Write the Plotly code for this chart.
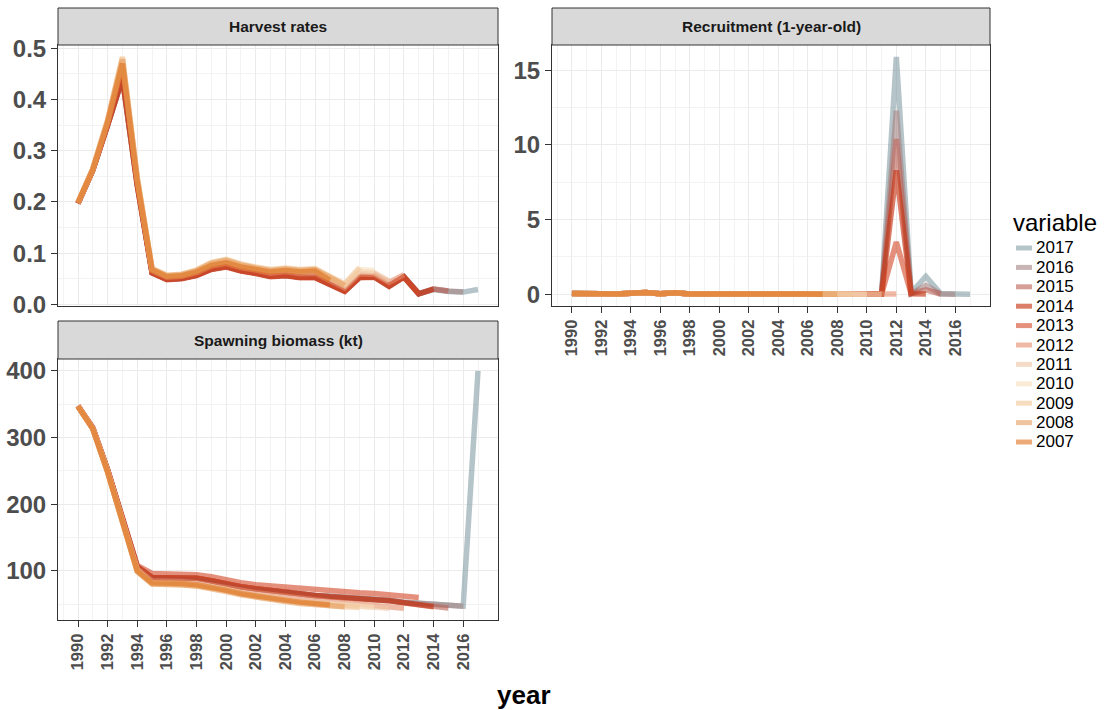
import plotly.graph_objects as go

# ---------------- data ----------------
variables = ["2017", "2016", "2015", "2014", "2013", "2012", "2011", "2010", "2009", "2008", "2007"]
panel_titles = ["Harvest rates", "Recruitment (1-year-old)", "Spawning biomass (kt)"]
x_tick_years = list(range(1990, 2017, 2))

hr_2007 = [0.198, 0.263, 0.355, 0.470, 0.240, 0.067, 0.054, 0.056, 0.063, 0.076, 0.081, 0.073, 0.068, 0.063, 0.066, 0.063, 0.065, 0.047]
hr_2008 = [0.199, 0.264, 0.358, 0.478, 0.245, 0.069, 0.056, 0.058, 0.066, 0.080, 0.086, 0.077, 0.071, 0.066, 0.069, 0.066, 0.068, 0.052, 0.037]
hr_2009 = [0.199, 0.265, 0.360, 0.483, 0.248, 0.070, 0.057, 0.059, 0.067, 0.082, 0.088, 0.079, 0.073, 0.068, 0.071, 0.068, 0.070, 0.054, 0.040, 0.072]
hr_2010 = [0.199, 0.265, 0.360, 0.482, 0.247, 0.070, 0.057, 0.059, 0.067, 0.081, 0.087, 0.078, 0.072, 0.067, 0.070, 0.067, 0.069, 0.053, 0.039, 0.068, 0.066]
hr_2011 = [0.198, 0.264, 0.358, 0.478, 0.245, 0.068, 0.055, 0.057, 0.065, 0.078, 0.084, 0.075, 0.070, 0.065, 0.068, 0.065, 0.066, 0.050, 0.036, 0.064, 0.062, 0.046]
hr_2012 = [0.198, 0.263, 0.355, 0.470, 0.242, 0.066, 0.053, 0.055, 0.062, 0.075, 0.080, 0.072, 0.067, 0.061, 0.064, 0.060, 0.061, 0.045, 0.032, 0.060, 0.059, 0.043, 0.058]
hr_2013 = [0.197, 0.262, 0.352, 0.455, 0.236, 0.062, 0.049, 0.051, 0.057, 0.069, 0.074, 0.066, 0.061, 0.055, 0.057, 0.053, 0.053, 0.039, 0.026, 0.053, 0.054, 0.037, 0.054, 0.021]
hr_2014 = [0.197, 0.262, 0.350, 0.440, 0.232, 0.061, 0.048, 0.050, 0.056, 0.068, 0.073, 0.065, 0.060, 0.054, 0.056, 0.052, 0.052, 0.038, 0.025, 0.052, 0.053, 0.035, 0.053, 0.020, 0.030]
hr_2015 = [0.197, 0.262, 0.350, 0.442, 0.233, 0.062, 0.049, 0.051, 0.057, 0.069, 0.074, 0.066, 0.061, 0.055, 0.057, 0.053, 0.053, 0.039, 0.026, 0.053, 0.054, 0.036, 0.054, 0.021, 0.030, 0.026]
hr_2016 = [0.197, 0.262, 0.350, 0.442, 0.233, 0.062, 0.049, 0.051, 0.057, 0.069, 0.074, 0.066, 0.061, 0.055, 0.057, 0.053, 0.053, 0.039, 0.026, 0.053, 0.054, 0.036, 0.054, 0.021, 0.030, 0.026, 0.024]
hr_2017 = [0.197, 0.262, 0.350, 0.442, 0.233, 0.062, 0.049, 0.051, 0.057, 0.069, 0.074, 0.066, 0.061, 0.055, 0.057, 0.053, 0.053, 0.039, 0.026, 0.053, 0.054, 0.036, 0.054, 0.021, 0.029, 0.025, 0.024, 0.029]

rec_2007 = [0.05, 0.08, 0.03, 0.02, 0.04, 0.12, 0.04, 0.10, 0.02, 0.03, 0.03, 0.02, 0.01, 0.02, 0.03, 0.02, 0.02, 0.01]
rec_2008 = [0.05, 0.08, 0.03, 0.02, 0.04, 0.12, 0.04, 0.10, 0.02, 0.03, 0.03, 0.02, 0.01, 0.02, 0.03, 0.02, 0.02, 0.02, 0.01]
rec_2009 = [0.05, 0.08, 0.03, 0.02, 0.04, 0.12, 0.04, 0.10, 0.02, 0.03, 0.03, 0.02, 0.01, 0.02, 0.03, 0.02, 0.02, 0.02, 0.02, 0.01]
rec_2010 = [0.05, 0.08, 0.03, 0.02, 0.04, 0.12, 0.04, 0.10, 0.02, 0.03, 0.03, 0.02, 0.01, 0.02, 0.03, 0.02, 0.02, 0.02, 0.02, 0.02, 0.01]
rec_2011 = [0.05, 0.08, 0.03, 0.02, 0.04, 0.12, 0.04, 0.10, 0.02, 0.03, 0.03, 0.02, 0.01, 0.02, 0.03, 0.02, 0.02, 0.02, 0.02, 0.02, 0.02, 0.01]
rec_2012 = [0.05, 0.08, 0.03, 0.02, 0.04, 0.12, 0.04, 0.10, 0.02, 0.03, 0.03, 0.02, 0.01, 0.02, 0.03, 0.02, 0.02, 0.02, 0.02, 0.02, 0.02, 0.05, 0.02]
rec_2013 = [0.05, 0.08, 0.03, 0.02, 0.04, 0.12, 0.04, 0.10, 0.02, 0.03, 0.03, 0.02, 0.01, 0.02, 0.03, 0.02, 0.02, 0.02, 0.02, 0.02, 0.02, 0.02, 3.50, 0.02]
rec_2014 = [0.05, 0.08, 0.03, 0.02, 0.04, 0.12, 0.04, 0.10, 0.02, 0.03, 0.03, 0.02, 0.01, 0.02, 0.03, 0.02, 0.02, 0.02, 0.02, 0.02, 0.02, 0.02, 8.30, 0.03, 0.02]
rec_2015 = [0.05, 0.08, 0.03, 0.02, 0.04, 0.12, 0.04, 0.10, 0.02, 0.03, 0.03, 0.02, 0.01, 0.02, 0.03, 0.02, 0.02, 0.02, 0.02, 0.02, 0.02, 0.02, 10.40, 0.05, 0.30, 0.02]
rec_2016 = [0.05, 0.08, 0.03, 0.02, 0.04, 0.12, 0.04, 0.10, 0.02, 0.03, 0.03, 0.02, 0.01, 0.02, 0.03, 0.02, 0.02, 0.02, 0.02, 0.02, 0.02, 0.02, 12.30, 0.05, 0.60, 0.02, 0.01]
rec_2017 = [0.05, 0.08, 0.03, 0.02, 0.04, 0.12, 0.04, 0.10, 0.02, 0.03, 0.03, 0.02, 0.01, 0.02, 0.03, 0.02, 0.02, 0.02, 0.02, 0.02, 0.02, 0.02, 15.90, 0.10, 1.20, 0.05, 0.02, 0.01]

sb_2007 = [347, 313, 248, 174, 100, 82, 82, 81, 79, 76, 71, 66, 62, 59, 56, 53, 51, 49]
sb_2008 = [347, 313, 248, 174, 99, 80, 80, 79, 77, 74, 69, 64, 60, 57, 54, 51, 49, 47, 46]
sb_2009 = [347, 313, 248, 174, 99, 80, 80, 80, 78, 75, 70, 65, 61, 58, 55, 52, 50, 48, 46, 45]
sb_2010 = [347, 313, 249, 175, 100, 81, 81, 80, 78, 75, 71, 66, 62, 59, 56, 53, 51, 49, 47, 46, 45]
sb_2011 = [347, 313, 249, 175, 101, 82, 82, 81, 79, 76, 72, 67, 63, 60, 57, 54, 52, 50, 48, 47, 45, 44]
sb_2012 = [347, 314, 250, 177, 103, 85, 85, 84, 82, 79, 75, 71, 67, 64, 61, 58, 56, 54, 52, 50, 48, 46, 44]
sb_2013 = [348, 315, 252, 180, 108, 96, 96, 96, 94, 91, 86, 82, 79, 77, 75, 73, 71, 69, 68, 67, 66, 64, 62, 60]
sb_2014 = [347, 314, 251, 178, 106, 90, 90, 90, 89, 85, 80, 76, 73, 70, 67, 65, 63, 61, 60, 59, 57, 55, 52, 49, 46]
sb_2015 = [347, 314, 251, 178, 106, 90, 90, 90, 89, 85, 80, 76, 73, 70, 67, 65, 63, 61, 60, 59, 57, 55, 52, 49, 47, 44]
sb_2016 = [347, 314, 251, 178, 106, 90, 90, 90, 89, 85, 80, 76, 73, 70, 67, 65, 63, 62, 61, 60, 58, 56, 53, 51, 49, 48, 47]
sb_2017 = [347, 314, 251, 178, 106, 90, 90, 90, 89, 85, 80, 76, 73, 70, 67, 65, 63, 62, 61, 60, 58, 56, 53, 51, 49, 48, 47, 400]

# ---------------- styling ----------------
ALPHA = 0.6
base_colors = {
    "2017": (132, 157, 163), "2016": (165, 130, 130), "2015": (187, 97, 85),
    "2014": (195, 42, 7), "2013": (212, 70, 37), "2012": (228, 138, 105),
    "2011": (238, 197, 163), "2010": (247, 222, 188), "2009": (242, 197, 150),
    "2008": (230, 157, 93), "2007": (222, 113, 30),
}

harvest = {"2007": hr_2007, "2008": hr_2008, "2009": hr_2009, "2010": hr_2010, "2011": hr_2011,
           "2012": hr_2012, "2013": hr_2013, "2014": hr_2014, "2015": hr_2015, "2016": hr_2016, "2017": hr_2017}
recruit = {"2007": rec_2007, "2008": rec_2008, "2009": rec_2009, "2010": rec_2010, "2011": rec_2011,
           "2012": rec_2012, "2013": rec_2013, "2014": rec_2014, "2015": rec_2015, "2016": rec_2016, "2017": rec_2017}
biomass = {"2007": sb_2007, "2008": sb_2008, "2009": sb_2009, "2010": sb_2010, "2011": sb_2011,
           "2012": sb_2012, "2013": sb_2013, "2014": sb_2014, "2015": sb_2015, "2016": sb_2016, "2017": sb_2017}

W, H = 1114, 710
FONT = "Liberation Sans, Arial, sans-serif"


def rgba(c, a=ALPHA):
    return f"rgba({c[0]},{c[1]},{c[2]},{a})"


def px_x(p):
    return p / W


def px_y(p):
    return 1 - p / H


def expand(vals, mult=0.05):
    lo, hi = min(vals), max(vals)
    d = (hi - lo) * mult
    return [lo - d, hi + d]


fig = go.Figure()

panels = [(harvest, "x", "y"), (recruit, "x2", "y2"), (biomass, "x3", "y3")]
for data, xa, ya in panels:
    for v in variables:  # 2017 first, 2007 drawn on top
        vals = data[v]
        yrs = list(range(1990, 1990 + len(vals)))
        fig.add_trace(go.Scatter(
            x=yrs, y=vals, xaxis=xa, yaxis=ya, mode="lines",
            line=dict(color=rgba(base_colors[v]), width=5.5),
            name=v, showlegend=False, hoverinfo="skip"))

all_years = list(range(1990, 2018))
xr = expand(all_years)
yr1 = expand([x for v in variables for x in harvest[v]])
yr2 = expand([x for v in variables for x in recruit[v]])
yr3 = expand([x for v in variables for x in biomass[v]])

# panel geometry in pixels
P1 = dict(x0=58, x1=498, s0=8, y0=45, y1=306)
P2 = dict(x0=552, x1=990, s0=8, y0=45, y1=306)
P3 = dict(x0=58, x1=498, s0=321, y0=359, y1=620)

tickfont_y = dict(family=FONT, size=24, color="#4D4D4D", weight="bold")
tickfont_x = dict(family=FONT, size=16.5, color="#4D4D4D", weight="bold")
grid_major = "#EBEBEB"
grid_minor = "#F3F3F3"


def xaxis(P, anchor, labels):
    return dict(
        domain=[px_x(P["x0"]), px_x(P["x1"])], anchor=anchor, range=xr, automargin=False,
        tickmode="array", tickvals=x_tick_years,
        ticktext=[str(t) for t in x_tick_years] if labels else [""] * len(x_tick_years),
        showticklabels=labels, ticks="outside" if labels else "", ticklen=6, tickwidth=1,
        tickcolor="#333333", tickangle=-90, tickfont=tickfont_x,
        showgrid=True, gridcolor=grid_major, gridwidth=1.4,
        minor=dict(tickmode="array", tickvals=list(range(1989, 2019, 2)), showgrid=True,
                   gridcolor=grid_minor, gridwidth=0.8, ticks=""),
        showline=True, mirror=True, linecolor="#333333", linewidth=1, zeroline=False)


def yaxis(P, anchor, rng, tvals, ttext, minor_vals):
    return dict(
        domain=[px_y(P["y1"]), px_y(P["y0"])], anchor=anchor, range=rng, automargin=False,
        tickmode="array", tickvals=tvals, ticktext=ttext, tickfont=tickfont_y,
        ticks="outside", ticklen=6, tickwidth=1, tickcolor="#333333",
        showgrid=True, gridcolor=grid_major, gridwidth=1.4,
        minor=dict(tickmode="array", tickvals=minor_vals, showgrid=True,
                   gridcolor=grid_minor, gridwidth=0.8, ticks=""),
        showline=True, mirror=True, linecolor="#333333", linewidth=1, zeroline=False)


y1_ticks = [0.0, 0.1, 0.2, 0.3, 0.4, 0.5]
y2_ticks = [0, 5, 10, 15]
y3_ticks = [100, 200, 300, 400]

fig.update_layout(
    width=W, height=H, margin=dict(l=0, r=0, t=0, b=0, pad=0, autoexpand=False),
    paper_bgcolor="white", plot_bgcolor="white", showlegend=False,
    font=dict(family=FONT),
    xaxis=xaxis(P1, "y", False),
    xaxis2=xaxis(P2, "y2", True),
    xaxis3=xaxis(P3, "y3", True),
    yaxis=yaxis(P1, "x", yr1, y1_ticks, [f"{t:.1f}" for t in y1_ticks], [0.05, 0.15, 0.25, 0.35, 0.45]),
    yaxis2=yaxis(P2, "x2", yr2, y2_ticks, [str(t) for t in y2_ticks], [2.5, 7.5, 12.5]),
    yaxis3=yaxis(P3, "x3", yr3, y3_ticks, [str(t) for t in y3_ticks], [50, 150, 250, 350]),
)

shapes = []
annotations = []
for P, title in zip([P1, P2, P3], panel_titles):
    shapes.append(dict(type="rect", xref="paper", yref="paper",
                       x0=px_x(P["x0"]), x1=px_x(P["x1"]), y0=px_y(P["y0"]), y1=px_y(P["s0"]),
                       fillcolor="#D9D9D9", line=dict(color="#333333", width=1), layer="above"))
    annotations.append(dict(xref="paper", yref="paper",
                            x=px_x((P["x0"] + P["x1"]) / 2), y=px_y((P["s0"] + P["y0"]) / 2),
                            text=f"<b>{title}</b>", showarrow=False,
                            font=dict(family=FONT, size=15.5, color="#1A1A1A"),
                            xanchor="center", yanchor="middle"))

# axis title
annotations.append(dict(xref="paper", yref="paper", x=px_x(524), y=px_y(695), text="<b>year</b>",
                        showarrow=False, font=dict(family=FONT, size=26, color="black"),
                        xanchor="center", yanchor="middle"))

# legend (drawn manually to reproduce ggplot spacing)
annotations.append(dict(xref="paper", yref="paper", x=px_x(1012), y=px_y(222), text="variable",
                        showarrow=False, font=dict(family=FONT, size=24, color="black"),
                        xanchor="left", yanchor="middle", borderpad=0))
for i, v in enumerate(variables):
    cy = 248 + i * 19.4
    shapes.append(dict(type="line", xref="paper", yref="paper",
                       x0=px_x(1016), x1=px_x(1032), y0=px_y(cy), y1=px_y(cy),
                       line=dict(color=rgba(base_colors[v]), width=5)))
    annotations.append(dict(xref="paper", yref="paper", x=px_x(1035), y=px_y(cy), text=v,
                            showarrow=False, font=dict(family=FONT, size=17, color="black"),
                            borderpad=0, xanchor="left", yanchor="middle"))

fig.update_layout(shapes=shapes, annotations=annotations)
fig.write_html("out.html")
